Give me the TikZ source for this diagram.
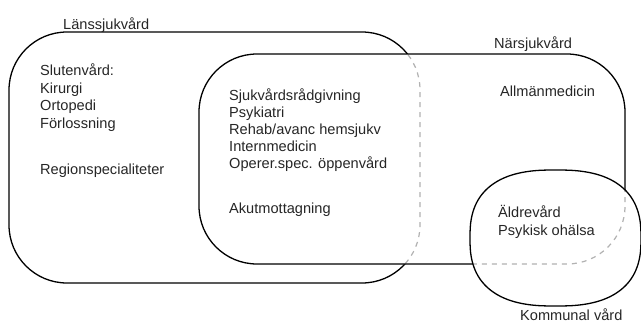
\documentclass[tikz,border=0pt]{standalone}
\usepackage{fontspec}
\setmainfont{Liberation Sans}
\begin{document}
\begin{tikzpicture}[x=1pt,y=-1pt,
  solidline/.style={line width=1.3pt,black},
  hidden/.style={line width=1.2pt,gray!60,dash pattern=on 5pt off 5pt},
  lbl/.style={anchor=base west,inner sep=0pt,font=\fontsize{14.6}{17}\selectfont,text=black!85}]
\useasboundingbox (0,0) rectangle (641,324);
\def\kommpath{plot[domain=2.5:357.5,samples=72,smooth cycle] ({555.5+85.5*sign(cos(\x))*pow(abs(cos(\x)),0.78)},{238+68*sign(sin(\x))*pow(abs(sin(\x)),0.78)})}
% Länssjukvård
\draw[solidline,rounded corners=58] (9,32) rectangle (420,283);
% Närsjukvård
\fill[white,rounded corners=58] (199,54) rectangle (625,264);
\begin{scope}
  \clip[rounded corners=58] (199,54) rectangle (625,264);
  \draw[hidden,rounded corners=58] (9,32) rectangle (420,283);
\end{scope}
\draw[solidline,rounded corners=58] (199,54) rectangle (625,264);
% Kommunal vård
\fill[white] \kommpath;
\begin{scope}
  \clip \kommpath;
  \draw[hidden,rounded corners=58] (199,54) rectangle (625,264);
\end{scope}
\draw[solidline] \kommpath;
% labels
\node[lbl] (lanslbl) at (63,29) {Länssjukvård};
\node[lbl] (narslbl) at (494,48.5) {Närsjukvård};
\node[lbl] (kommlbl) at (520,320.5) {Kommunal vård};
\node[lbl] (sluten) at (40,75.5) {Slutenvård:};
\node[lbl] (kir) at (40,93) {Kirurgi};
\node[lbl] (orto) at (40,110.5) {Ortopedi};
\node[lbl] (forl) at (40,128) {Förlossning};
\node[lbl] (region) at (40,174) {Regionspecialiteter};
\node[lbl] (sjuk) at (229,100.5) {Sjukvårdsrådgivning};
\node[lbl] (psyk) at (229,117.5) {Psykiatri};
\node[lbl] (rehab) at (229,134.5) {Rehab/avanc hemsjukv};
\node[lbl] (intern) at (229,151.5) {Internmedicin};
\node[lbl] (operer) at (229,168.5) {Operer.spec. öppenvård};
\node[lbl] (akut) at (229,213.5) {Akutmottagning};
\node[lbl] (allm) at (500,96) {Allmänmedicin};
\node[lbl] (aldre) at (498,217.5) {Äldrevård};
\node[lbl] (psykoh) at (498,235) {Psykisk ohälsa};
\end{tikzpicture}
\end{document}
